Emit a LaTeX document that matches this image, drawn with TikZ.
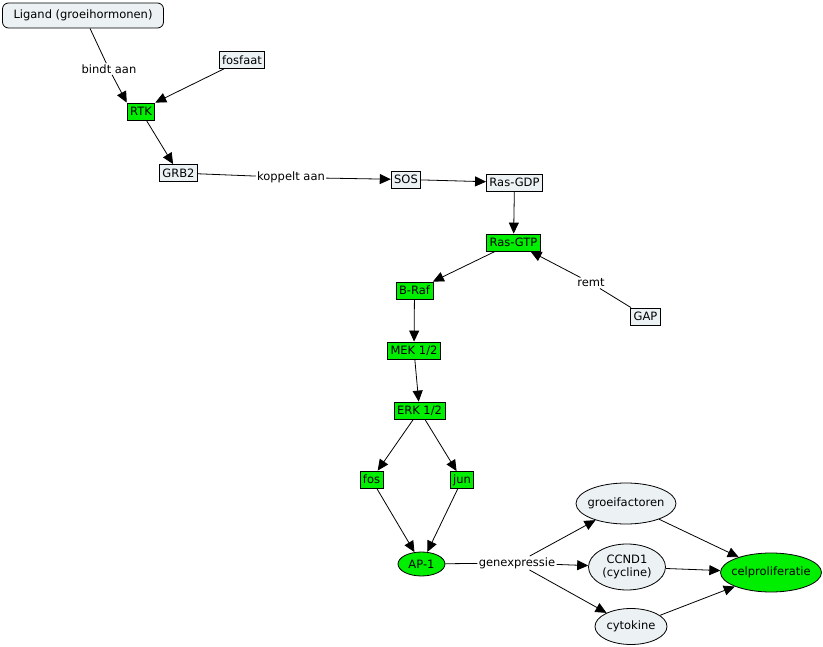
\documentclass[tikz,border=0pt]{standalone}
\usepackage{fontspec}
\setmainfont{DejaVu Sans}
\usetikzlibrary{arrows.meta,shapes.geometric}
\definecolor{groen}{RGB}{0,238,0}
\definecolor{licht}{RGB}{236,241,244}
\tikzset{
    box/.style={draw, fill=licht, line width=0.8pt, inner xsep=3pt, inner ysep=1pt, minimum height=17pt, font=\fontsize{11.5}{13}\selectfont},
    gbox/.style={box, fill=groen},
    ell/.style={draw, ellipse, fill=licht, line width=0.8pt, inner xsep=-10pt, inner ysep=0pt, font=\fontsize{11.5}{13.5}\selectfont, align=center},
    lab/.style={fill=white, inner sep=1pt, font=\fontsize{11.5}{13}\selectfont},
    pijl/.style={-{Triangle[length=11pt,width=10pt]}},
}
\begin{document}
\begin{tikzpicture}[x=1pt,y=-1pt, line width=0.8pt]
    \useasboundingbox (0,0) rectangle (823,647);

    \node[box, rounded corners=6pt, minimum width=161pt, minimum height=25pt] (ligand) at (83,15.5) {Ligand (groeihormonen)};
    \node[box] (fosfaat) at (242,60) {fosfaat};
    \node[gbox] (rtk) at (141,111.5) {RTK};
    \node[box] (grb2) at (178.5,173) {GRB2};
    \node[box] (sos) at (406,179.5) {SOS};
    \node[box] (rasgdp) at (514.5,182.5) {Ras-GDP};
    \node[gbox] (rasgtp) at (513.5,242.5) {Ras-GTP};
    \node[gbox] (braf) at (414.5,290.5) {B-Raf};
    \node[box] (gap) at (645.5,316.5) {GAP};
    \node[gbox] (mek) at (414,350.5) {MEK 1/2};
    \node[gbox] (erk) at (419.5,410.5) {ERK 1/2};
    \node[gbox] (fos) at (371.5,479.5) {fos};
    \node[gbox] (jun) at (462,480) {jun};

    \node[ell, fill=groen, minimum width=47pt, minimum height=24pt] (ap1) at (421.5,564) {AP-1};
    \node[ell, minimum width=100pt, minimum height=41pt] (groei) at (626,503.5) {groeifactoren};
    \node[ell, minimum width=77pt, minimum height=46pt] (ccnd1) at (627,567) {CCND1\\(cycline)};
    \node[ell, minimum width=72pt, minimum height=36pt] (cyto) at (631,626.5) {cytokine};
    \node[ell, fill=groen, minimum width=101pt, minimum height=39pt] (cel) at (771,572.5) {celproliferatie};

    % labels op de verbindingen
    \node[lab] (bindt) at (109,69) {bindt aan};
    \node[lab] (koppelt) at (291,177.5) {koppelt aan};
    \node[lab] (remt) at (591,283) {remt};
    \node[lab] (genexp) at (517,563) {genexpressie};

    \draw (ligand.south) ++(7,0) coordinate (l0) -- (bindt);
    \draw[pijl] (bindt) -- (rtk.north west);
    \draw[pijl] (fosfaat) -- (rtk.north east);
    \draw[pijl] (rtk) -- (grb2);
    \draw (grb2) -- (koppelt);
    \draw[pijl] (koppelt) -- (sos);
    \draw[pijl] (sos) -- (rasgdp);
    \draw[pijl] (rasgdp) -- (rasgtp);
    \draw[pijl] (rasgtp) -- (braf);
    \draw (gap) -- (remt);
    \draw[pijl] (remt) -- (rasgtp);
    \draw[pijl] (braf) -- (mek);
    \draw[pijl] (mek) -- (erk);
    \draw[pijl] (erk) -- (fos);
    \draw[pijl] (erk) -- (jun);
    \draw[pijl] (fos) -- (ap1);
    \draw[pijl] (jun) -- (ap1);
    \draw (ap1) -- (genexp);
    \draw[pijl] (genexp) -- (groei);
    \draw[pijl] (genexp) -- (ccnd1);
    \draw[pijl] (genexp) -- (cyto);
    \draw[pijl] (groei) -- (cel);
    \draw[pijl] (ccnd1) -- (cel);
    \draw[pijl] (cyto) -- (cel);
\end{tikzpicture}
\end{document}
